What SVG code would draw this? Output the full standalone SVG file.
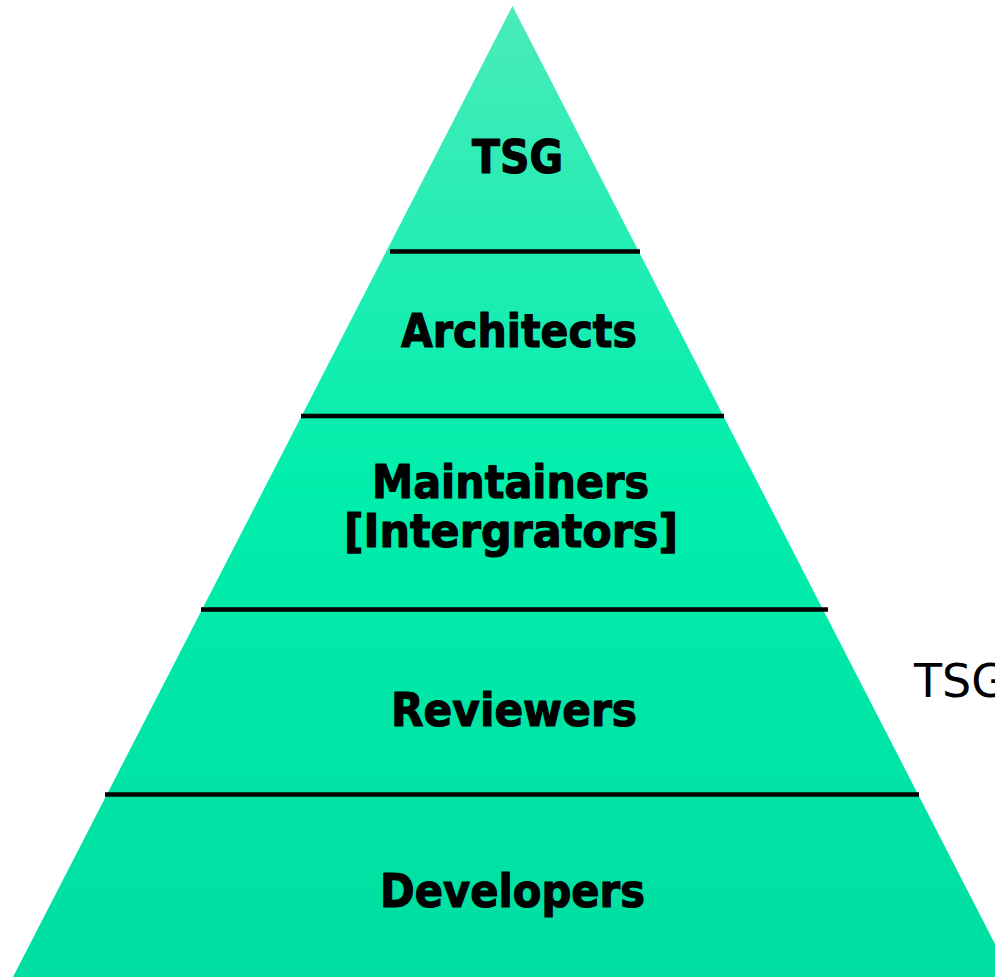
<svg xmlns="http://www.w3.org/2000/svg" width="995" height="977" viewBox="0 0 995 977">
  <defs>
    <linearGradient id="pyramidFill" x1="0" y1="6" x2="0" y2="977" gradientUnits="userSpaceOnUse">
      <stop offset="0" stop-color="#4aebb9"/>
      <stop offset="0.25" stop-color="#22edb3"/>
      <stop offset="0.5" stop-color="#00eeab"/>
      <stop offset="0.75" stop-color="#00e5a6"/>
      <stop offset="1" stop-color="#00dea2"/>
    </linearGradient>
    <style>
      .tier { font-family: "DejaVu Sans", Verdana, sans-serif; font-weight: bold; font-size: 47px; fill: #000; stroke: #000; stroke-width: 1.2px; stroke-linejoin: round; }
      .side { font-family: "DejaVu Sans", Verdana, sans-serif; font-size: 46px; fill: #000; }
      .divider { stroke: #000; stroke-width: 4.5; }
    </style>
  </defs>
  <rect width="995" height="977" fill="#fff"/>

  <!-- pyramid body -->
  <polygon id="pyramid" points="512.5,6 13,977 1012,977" fill="url(#pyramidFill)"/>

  <!-- tier dividers -->
  <g id="dividers">
    <line class="divider" x1="390" y1="251.5" x2="640" y2="251.5"/>
    <line class="divider" x1="301" y1="416" x2="724" y2="416"/>
    <line class="divider" x1="201" y1="609.5" x2="828" y2="609.5"/>
    <line class="divider" x1="105" y1="794.5" x2="919" y2="794.5"/>
  </g>

  <!-- tier labels -->
  <g id="tier-tsg">
    <text class="tier" x="472" y="173" textLength="91" lengthAdjust="spacingAndGlyphs">TSG</text>
  </g>
  <g id="tier-architects">
    <text class="tier" x="401" y="347" textLength="236" lengthAdjust="spacingAndGlyphs">Architects</text>
  </g>
  <g id="tier-maintainers">
    <text class="tier" x="372" y="498" textLength="277" lengthAdjust="spacingAndGlyphs">Maintainers</text>
    <text class="tier" x="344" y="547" textLength="334" lengthAdjust="spacingAndGlyphs">[Intergrators]</text>
  </g>
  <g id="tier-reviewers">
    <text class="tier" x="391" y="726" textLength="246" lengthAdjust="spacingAndGlyphs">Reviewers</text>
  </g>
  <g id="tier-developers">
    <text class="tier" x="380" y="907" textLength="265" lengthAdjust="spacingAndGlyphs">Developers</text>
  </g>

  <!-- side caption -->
  <g id="side-tsg">
    <text class="side" x="914" y="697">TSG</text>
  </g>
</svg>
